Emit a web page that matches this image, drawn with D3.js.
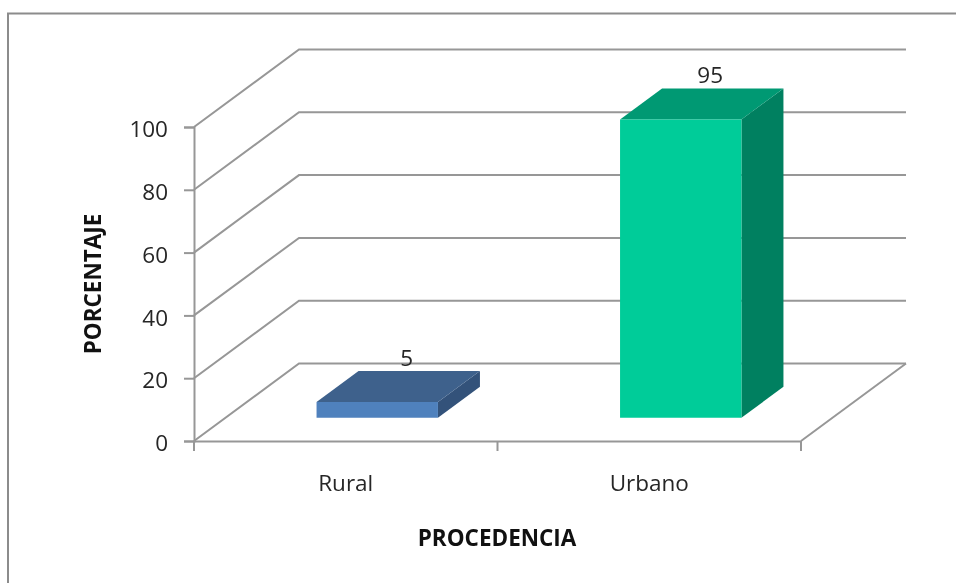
<!DOCTYPE html>
<html>
<head>
<meta charset="utf-8">
<script src="https://d3js.org/d3.v7.min.js"></script>
<style>
  html, body { margin: 0; padding: 0; background: #fff; }
  text { font-family: "Open Sans", "Noto Sans", sans-serif; fill: #262626; }
  .wall { stroke: #979797; stroke-width: 2; fill: none; }
</style>
</head>
<body>
<div id="chart"></div>
<script>
// Chart data
const categories = ["Rural", "Urbano"];
const values = [5, 95];
const yTicks = [0, 20, 40, 60, 80, 100];
const frontColors = ["#4f81bd", "#00cc99"];
const topColors = ["#3e618c", "#009973"];
const sideColors = ["#33527a", "#008060"];

const width = 956, height = 583;
const fontSize = 22.5;

let svg = d3.select("#chart").append("svg")
    .attr("width", width)
    .attr("height", height)
    .style("display", "block")
    .style("filter", "blur(0.4px)"); // the reference is a slightly soft screenshot

// Front plane scales
let x = d3.scaleBand().domain(categories).range([194, 801]);
let y = d3.scaleLinear().domain([0, 100]).range([441, 127]);

// Depth scale, 0 = front plane, 1 = back wall
let depthX = d3.scaleLinear().domain([0, 1]).range([0, 105]);
let depthY = d3.scaleLinear().domain([0, 1]).range([0, -77.5]);

// Bars take the middle 40% of the band and of the depth
const barShare = 0.4;
const barNear = 0.3, barFar = 0.7;

function pt(px, value, depth) {
    return [px + depthX(depth), y(value) + depthY(depth)];
}

// Outer frame, only top and left are in the picture
svg.append("path")
    .attr("d", "M8,583V13.5H956")
    .attr("fill", "none")
    .attr("stroke", "#8c8c8c")
    .attr("stroke-width", 2);

// Gridlines: side wall and back wall
let line = d3.line();
svg.append("g").selectAll("path")
    .data(yTicks)
    .enter().append("path")
    .attr("class", "wall")
    .attr("d", d => line([pt(194, d, 0), pt(194, d, 1), pt(801, d, 1)]));

// Floor edge on the right
svg.append("path")
    .attr("class", "wall")
    .attr("d", line([pt(801, 0, 1), pt(801, 0, 0)]));

// Axes
let yAxis = d3.axisLeft(y).tickValues(yTicks).tickSize(10).tickPadding(16);
let yG = svg.append("g").attr("transform", "translate(194,0)").call(yAxis);

let xAxis = d3.axisBottom(x).tickSize(0).tickPadding(34);
let xG = svg.append("g").attr("transform", "translate(0,441)").call(xAxis);

[yG, xG].forEach(g => {
    g.selectAll("path.domain").attr("stroke", "#979797").attr("stroke-width", 2);
    g.selectAll("line").attr("stroke", "#979797").attr("stroke-width", 2);
    g.selectAll("text").attr("font-size", fontSize).attr("font-family", null);
});
yG.selectAll("text").attr("dy", "0.43em");

// Ticks between the categories on the x axis
svg.append("g").selectAll("line")
    .data([0, 1, 2])
    .enter().append("line")
    .attr("x1", d => 194 + d * x.step())
    .attr("x2", d => 194 + d * x.step())
    .attr("y1", 441)
    .attr("y2", 451)
    .attr("stroke", "#979797")
    .attr("stroke-width", 2);

// Bars, each one made of front, top and side faces
let bars = svg.append("g").selectAll("g")
    .data(categories.map((c, i) => ({ cat: c, value: values[i], i: i })))
    .enter().append("g");

function barEdges(d) {
    let w = x.bandwidth() * barShare;
    let left = x(d.cat) + (x.bandwidth() - w) / 2;
    return [left, left + w];
}

bars.append("path")
    .attr("fill", d => sideColors[d.i])
    .attr("d", d => {
        let r = barEdges(d)[1];
        return line([pt(r, 0, barNear), pt(r, 0, barFar), pt(r, d.value, barFar), pt(r, d.value, barNear)]) + "Z";
    });

bars.append("path")
    .attr("fill", d => topColors[d.i])
    .attr("d", d => {
        let [l, r] = barEdges(d);
        return line([pt(l, d.value, barNear), pt(l, d.value, barFar), pt(r, d.value, barFar), pt(r, d.value, barNear)]) + "Z";
    });

bars.append("path")
    .attr("fill", d => frontColors[d.i])
    .attr("d", d => {
        let [l, r] = barEdges(d);
        return line([pt(l, 0, barNear), pt(l, d.value, barNear), pt(r, d.value, barNear), pt(r, 0, barNear)]) + "Z";
    });

// Value labels sit above the top face
bars.append("text")
    .attr("text-anchor", "middle")
    .attr("font-size", fontSize)
    .attr("x", d => (barEdges(d)[0] + barEdges(d)[1]) / 2 + depthX(0.58))
    .attr("y", d => y(d.value) + depthY(barFar) - 5)
    .text(d => d.value);

// Axis titles
svg.append("text")
    .attr("x", 497)
    .attr("y", 546)
    .attr("text-anchor", "middle")
    .attr("font-size", fontSize)
    .attr("font-weight", "bold")
    .style("fill", "#111")
    .text("PROCEDENCIA");

svg.append("text")
    .attr("transform", "translate(101,284) rotate(-90)")
    .attr("text-anchor", "middle")
    .attr("font-size", fontSize)
    .attr("font-weight", "bold")
    .style("fill", "#111")
    .text("PORCENTAJE");
</script>
</body>
</html>
